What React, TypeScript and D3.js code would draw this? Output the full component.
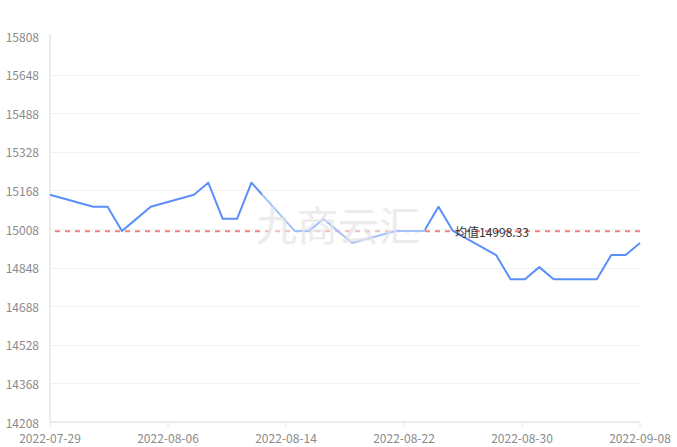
import React from "react";
import * as d3 from "d3";

const dates = [
  "2022-07-29", "2022-08-01", "2022-08-02", "2022-08-03", "2022-08-04", "2022-08-05",
  "2022-08-08", "2022-08-09", "2022-08-10", "2022-08-11", "2022-08-12",
  "2022-08-15", "2022-08-16", "2022-08-17", "2022-08-18", "2022-08-19",
  "2022-08-22", "2022-08-23", "2022-08-24", "2022-08-25", "2022-08-26",
  "2022-08-29", "2022-08-30", "2022-08-31", "2022-09-01", "2022-09-02",
  "2022-09-05", "2022-09-06", "2022-09-07", "2022-09-08",
];
const prices = [
  15150, 15100, 15100, 15000, 15050, 15100,
  15150, 15200, 15050, 15050, 15200,
  15000, 15000, 15050, 15000, 14950,
  15000, 15000, 15000, 15100, 15000,
  14900, 14800, 14800, 14850, 14800,
  14800, 14900, 14900, 14950,
];
const xTickLabels = ["2022-07-29", "2022-08-06", "2022-08-14", "2022-08-22", "2022-08-30", "2022-09-08"];
const yTicks = [14208, 14368, 14528, 14688, 14848, 15008, 15168, 15328, 15488, 15648, 15808];
const avgLabelPrefix = "均值";
const watermark = "九商云汇";

const W = 677;
const H = 447;
const left = 50;
const right = 640;
const top = 36;
const bottom = 422;
const FONT = "'Noto Sans CJK SC', 'Noto Sans', sans-serif";

export default function App() {
  const parse = d3.utcParse("%Y-%m-%d");
  const pts = dates.map((d, i) => ({ date: parse(d) as Date, v: prices[i] }));
  const x = d3
    .scaleUtc()
    .domain([pts[0].date, pts[pts.length - 1].date])
    .range([left, right]);
  const y = d3.scaleLinear().domain([yTicks[0], yTicks[yTicks.length - 1]]).range([bottom, top]);
  const mean = d3.mean(prices) as number;
  const line = d3
    .line<{ date: Date; v: number }>()
    .x((d) => x(d.date))
    .y((d) => y(d.v));
  const [t0, t1] = x.domain().map((d) => d.getTime());
  const xTickPos = xTickLabels.map((_, k) => x(new Date(t0 + ((t1 - t0) * k) / (xTickLabels.length - 1))));
  const yMean = y(mean);
  const lastTick = yTicks[yTicks.length - 1];

  return (
    <svg
      width={W}
      height={H}
      style={{ position: "absolute", left: 0, top: 0, background: "#fff" }}
      fontFamily={FONT}
    >
      {yTicks.map((t) => (
        <g key={t}>
          {t !== yTicks[0] && t !== lastTick && (
            <line x1={left} x2={right} y1={Math.round(y(t)) + 0.5} y2={Math.round(y(t)) + 0.5} stroke="#f2f2f2" strokeWidth={1} />
          )}
          <text x={39} y={y(t)} textAnchor="end" dominantBaseline="central" fontSize={12} fill="#8a8a8a">
            {t}
          </text>
        </g>
      ))}
      <line x1={left} x2={left} y1={top - 2} y2={bottom} stroke="#e6e6e6" strokeWidth={1.5} />
      <line x1={left} x2={right} y1={bottom} y2={bottom} stroke="#e6e6e6" strokeWidth={1.5} />
      {xTickLabels.map((lab, k) => (
        <g key={lab}>
          <line x1={xTickPos[k]} x2={xTickPos[k]} y1={bottom} y2={bottom + 5} stroke="#e6e6e6" strokeWidth={1} />
          <text x={xTickPos[k]} y={bottom + 15} textAnchor="middle" dominantBaseline="central" fontSize={12} fill="#8a8a8a">
            {lab}
          </text>
        </g>
      ))}
      <line
        x1={left + 5}
        x2={right}
        y1={yMean}
        y2={yMean}
        stroke="#f77f7f"
        strokeWidth={2}
        strokeDasharray="5,5"
      />
      <path d={line(pts) || ""} fill="none" stroke="#5b8ff9" strokeWidth={2} strokeLinejoin="round" />
      <text x={455} y={yMean + 0.5} dominantBaseline="central" fontSize={12} fill="#333">
        {avgLabelPrefix + mean.toFixed(2)}
      </text>
      <rect x={262} y={192} width={163} height={62} fill="#fff" opacity={0.45} />
      <text x={338} y={223} textAnchor="middle" dominantBaseline="central" fontSize={41} fill="#e4e4e4" opacity={0.7}>
        {watermark}
      </text>
    </svg>
  );
}
